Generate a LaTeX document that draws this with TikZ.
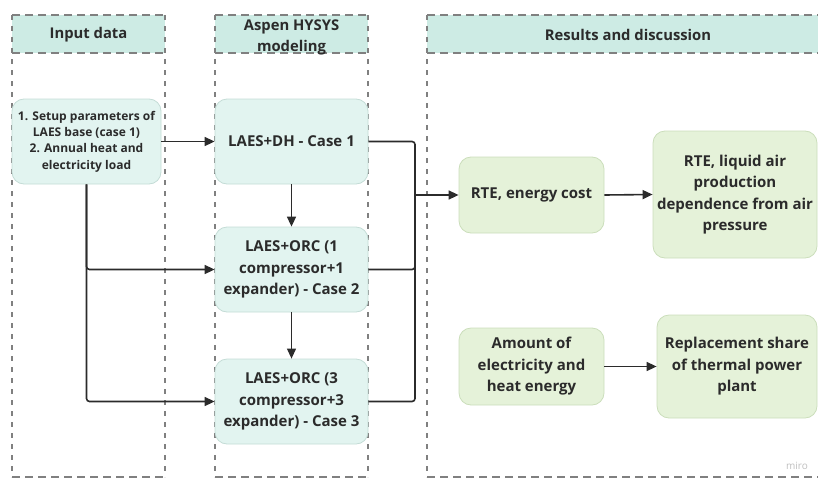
\documentclass[tikz,border=0pt]{standalone}
\usepackage{fontspec}
\setmainfont{Open Sans}
\usetikzlibrary{arrows.meta}
\definecolor{hdr}{HTML}{CDEBE4}
\definecolor{cbox}{HTML}{E2F4F0}
\definecolor{cbord}{HTML}{C4DCD6}
\definecolor{gbox}{HTML}{E5F2D9}
\definecolor{gbord}{HTML}{CBDEBB}
\definecolor{dash}{HTML}{808080}
\definecolor{ink}{HTML}{2B2B2B}
\tikzset{
  lane/.style={draw=dash, line width=1.5pt, dash pattern=on 5pt off 6pt},
  hline/.style={draw=dash, line width=2pt, dash pattern=on 8pt off 5pt},
  hdrtext/.style={font=\bfseries\fontsize{14.8}{19}\selectfont, text=ink},
  casebox/.style={draw=cbord, fill=cbox, line width=0.8pt, rounded corners=12pt, align=center,
    font=\bfseries\fontsize{15}{21.5}\selectfont, text=ink, inner sep=2pt},
  resbox/.style={draw=gbord, fill=gbox, line width=0.8pt, rounded corners=12pt, align=center,
    font=\bfseries\fontsize{15}{21.5}\selectfont, text=ink, inner sep=2pt},
  arr/.style={draw=ink, line width=1.6pt, -{Triangle[length=10pt,width=9pt]}},
  thinarr/.style={draw=ink, line width=1.1pt, -{Triangle[length=10pt,width=9pt]}},
  bus/.style={draw=ink, line width=1.6pt, rounded corners=3pt}
}
\begin{document}
\begin{tikzpicture}[x=1pt,y=-1pt]
\useasboundingbox (0,0) rectangle (818,479);
% header fills
\fill[hdr] (12,15) rectangle (165,53);
\fill[hdr] (215,15) rectangle (368,53);
\fill[hdr] (427,15) rectangle (818,53);
% lanes
\foreach \x in {12,165,215,368,427} {\draw[lane] (\x,15) -- (\x,477);}
\foreach \a/\b in {12/165,215/368,427/818} {
  \draw[hline] (\a,15) -- (\b,15);
  \draw[hline] (\a,53) -- (\b,53);
  \draw[hline] (\a,477) -- (\b,477);
}
% header texts
\node[hdrtext] (h1) at (88.5,35) {Input data};
\node[hdrtext] (h2a) at (291.5,27) {Aspen HYSYS};
\node[hdrtext] (h2b) at (291.5,48) {modeling};
\node[hdrtext] (h3) at (628,35) {Results and discussion};
% boxes
\node[casebox, minimum width=149pt, minimum height=85pt,
  font=\bfseries\fontsize{12}{16.3}\selectfont] (inp) at (86.5,141.5)
  {1. Setup parameters of\\LAES base (case 1)\\2. Annual heat and\\electricity load};
\node[casebox, minimum width=153pt, minimum height=85pt] (c1) at (291.5,141.5) {LAES+DH - Case 1};
\node[casebox, minimum width=153pt, minimum height=85pt] (c2) at (291.5,269.5) {LAES+ORC (1\\compressor+1\\expander) - Case 2};
\node[casebox, minimum width=153pt, minimum height=85pt] (c3) at (291.5,401.5) {LAES+ORC (3\\compressor+3\\expander) - Case 3};
\node[resbox, minimum width=145pt, minimum height=76pt] (rte) at (531.5,195) {RTE, energy cost};
\node[resbox, minimum width=164pt, minimum height=127pt] (liq) at (735,194.5) {RTE, liquid air\\production\\dependence from air\\pressure};
\node[resbox, minimum width=145pt, minimum height=77pt] (amt) at (531.5,366.5) {Amount of\\electricity and\\heat energy};
\node[resbox, minimum width=160pt, minimum height=103pt] (rep) at (737,366.5) {Replacement share\\of thermal power\\plant};
\node[font=\fontsize{10}{11}\selectfont, text=black!25] (miro) at (797,466) {miro};
% connectors
\draw[arr] (inp.east) -- (c1.west);
\draw[arr] (c1.south) -- (c2.north);
\draw[thinarr] (c2.south) -- (c3.north);
\draw[arr, rounded corners=3pt] (inp.south) |- (c2.west);
\draw[arr, rounded corners=3pt] (inp.south) |- (c3.west);
\coordinate (bx) at (415,195);
\draw[bus] (c1.east) -| (bx);
\draw[bus] (c2.east) -| (bx);
\draw[bus] (c3.east) -| (bx);
\draw[arr] (bx) -- (rte.west);
\draw[arr] (rte.east) -- (liq.west);
\draw[arr] (amt.east) -- (rep.west);
\end{tikzpicture}
\end{document}
